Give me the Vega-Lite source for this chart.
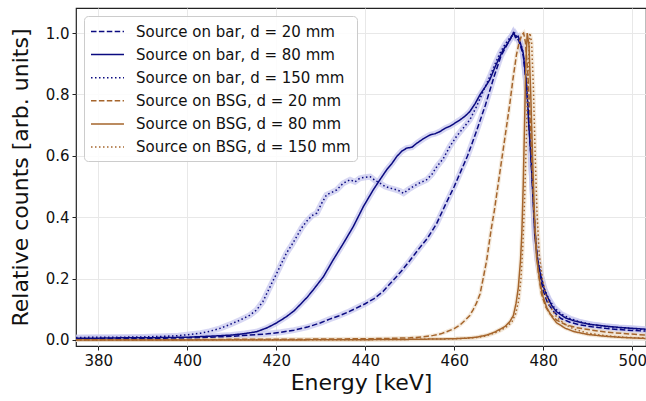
{
"$schema":"https://vega.github.io/schema/vega-lite/v6.json",
"width":570,"height":338,
"autosize":{"type":"none"},
"padding":{"left":76,"top":8,"right":0,"bottom":55},
"config":{"font":"DejaVu Sans","view":{"stroke":"#222222","strokeWidth":1.2},
 "axis":{"domain":false,"tickColor":"#222222","tickSize":4,"tickWidth":1,"labelFontSize":15,"labelColor":"#111111","labelPadding":3,"titleFontSize":22,"titleFontWeight":"normal","titleColor":"#111111","gridColor":"#e8e8e8","gridWidth":1},
 "legend":{"orient":"top-left","offset":8,"padding":6,"fillColor":"rgba(255,255,255,0.85)","strokeColor":"#cccccc","cornerRadius":4,"labelFontSize":15,"labelColor":"#111111","symbolType":"M-1,0H2.88","symbolSize":289,"symbolStrokeWidth":1.5,"symbolFillColor":"transparent","labelOffset":27,"labelLimit":400,"rowPadding":5.1}},
"data":{"values":[
{"s":"b20","E":375,"v":0.004},{"s":"b20","E":380,"v":0.004},{"s":"b20","E":385,"v":0.005},{"s":"b20","E":390,"v":0.005},{"s":"b20","E":395,"v":0.006},{"s":"b20","E":400,"v":0.007},{"s":"b20","E":405,"v":0.009},{"s":"b20","E":410,"v":0.012},{"s":"b20","E":414,"v":0.016},{"s":"b20","E":418,"v":0.02},{"s":"b20","E":421,"v":0.025},{"s":"b20","E":424,"v":0.032},{"s":"b20","E":427,"v":0.042},{"s":"b20","E":430,"v":0.056},{"s":"b20","E":432,"v":0.068},{"s":"b20","E":434,"v":0.078},{"s":"b20","E":436,"v":0.09},{"s":"b20","E":438,"v":0.104},{"s":"b20","E":440,"v":0.118},{"s":"b20","E":442,"v":0.135},{"s":"b20","E":444,"v":0.158},{"s":"b20","E":446,"v":0.19},{"s":"b20","E":448,"v":0.222},{"s":"b20","E":450,"v":0.258},{"s":"b20","E":452,"v":0.296},{"s":"b20","E":454,"v":0.332},{"s":"b20","E":456,"v":0.378},{"s":"b20","E":458,"v":0.44},{"s":"b20","E":460,"v":0.5},{"s":"b20","E":461.5,"v":0.55},{"s":"b20","E":463,"v":0.6},{"s":"b20","E":465,"v":0.68},{"s":"b20","E":467,"v":0.765},{"s":"b20","E":469,"v":0.86},{"s":"b20","E":470.5,"v":0.925},{"s":"b20","E":472,"v":0.965},{"s":"b20","E":473.3,"v":1.0},{"s":"b20","E":474.5,"v":0.975},{"s":"b20","E":475.5,"v":0.93},{"s":"b20","E":476.3,"v":0.82},{"s":"b20","E":476.8,"v":0.7},{"s":"b20","E":477.3,"v":0.58},{"s":"b20","E":477.8,"v":0.45},{"s":"b20","E":478.3,"v":0.33},{"s":"b20","E":479,"v":0.23},{"s":"b20","E":480,"v":0.16},{"s":"b20","E":481,"v":0.12},{"s":"b20","E":482.5,"v":0.09},{"s":"b20","E":484,"v":0.07},{"s":"b20","E":486,"v":0.058},{"s":"b20","E":488,"v":0.05},{"s":"b20","E":491,"v":0.043},{"s":"b20","E":494,"v":0.038},{"s":"b20","E":497,"v":0.034},{"s":"b20","E":500,"v":0.031},{"s":"b20","E":503,"v":0.029},
{"s":"b80","E":375,"v":0.006},{"s":"b80","E":380,"v":0.006},{"s":"b80","E":385,"v":0.007},{"s":"b80","E":390,"v":0.007},{"s":"b80","E":395,"v":0.008},{"s":"b80","E":400,"v":0.009},{"s":"b80","E":403,"v":0.011},{"s":"b80","E":406,"v":0.013},{"s":"b80","E":410,"v":0.016},{"s":"b80","E":413,"v":0.021},{"s":"b80","E":415.6,"v":0.027},{"s":"b80","E":418,"v":0.04},{"s":"b80","E":420,"v":0.055},{"s":"b80","E":422.3,"v":0.076},{"s":"b80","E":424,"v":0.095},{"s":"b80","E":425.3,"v":0.114},{"s":"b80","E":427,"v":0.14},{"s":"b80","E":428.3,"v":0.163},{"s":"b80","E":430.6,"v":0.206},{"s":"b80","E":432.8,"v":0.261},{"s":"b80","E":435.1,"v":0.315},{"s":"b80","E":437.3,"v":0.369},{"s":"b80","E":439.6,"v":0.435},{"s":"b80","E":441.8,"v":0.489},{"s":"b80","E":443.3,"v":0.522},{"s":"b80","E":444.8,"v":0.554},{"s":"b80","E":446,"v":0.575},{"s":"b80","E":447.1,"v":0.598},{"s":"b80","E":448.2,"v":0.615},{"s":"b80","E":449.3,"v":0.625},{"s":"b80","E":450.5,"v":0.628},{"s":"b80","E":451.6,"v":0.641},{"s":"b80","E":453,"v":0.655},{"s":"b80","E":454.6,"v":0.668},{"s":"b80","E":455.7,"v":0.672},{"s":"b80","E":456.8,"v":0.679},{"s":"b80","E":458,"v":0.69},{"s":"b80","E":459,"v":0.696},{"s":"b80","E":460,"v":0.705},{"s":"b80","E":461.3,"v":0.717},{"s":"b80","E":462.5,"v":0.73},{"s":"b80","E":463.5,"v":0.744},{"s":"b80","E":464.7,"v":0.77},{"s":"b80","E":465.8,"v":0.799},{"s":"b80","E":467,"v":0.825},{"s":"b80","E":468,"v":0.848},{"s":"b80","E":469.2,"v":0.89},{"s":"b80","E":470.3,"v":0.924},{"s":"b80","E":471,"v":0.945},{"s":"b80","E":471.8,"v":0.962},{"s":"b80","E":472.6,"v":0.98},{"s":"b80","E":473.3,"v":1.0},{"s":"b80","E":473.8,"v":0.985},{"s":"b80","E":474.4,"v":0.989},{"s":"b80","E":475,"v":0.96},{"s":"b80","E":475.5,"v":0.935},{"s":"b80","E":476.3,"v":0.826},{"s":"b80","E":476.7,"v":0.717},{"s":"b80","E":477.2,"v":0.609},{"s":"b80","E":477.5,"v":0.52},{"s":"b80","E":478.1,"v":0.34},{"s":"b80","E":478.7,"v":0.26},{"s":"b80","E":479.3,"v":0.22},{"s":"b80","E":480,"v":0.175},{"s":"b80","E":480.8,"v":0.145},{"s":"b80","E":482,"v":0.11},{"s":"b80","E":483,"v":0.092},{"s":"b80","E":485,"v":0.072},{"s":"b80","E":487,"v":0.062},{"s":"b80","E":490,"v":0.052},{"s":"b80","E":494,"v":0.045},{"s":"b80","E":497,"v":0.041},{"s":"b80","E":500,"v":0.038},{"s":"b80","E":503,"v":0.035},
{"s":"b150","E":375,"v":0.008},{"s":"b150","E":380,"v":0.009},{"s":"b150","E":385,"v":0.009},{"s":"b150","E":390,"v":0.01},{"s":"b150","E":395,"v":0.012},{"s":"b150","E":398,"v":0.014},{"s":"b150","E":400,"v":0.017},{"s":"b150","E":403,"v":0.022},{"s":"b150","E":405,"v":0.028},{"s":"b150","E":407.4,"v":0.038},{"s":"b150","E":409.5,"v":0.05},{"s":"b150","E":411.9,"v":0.065},{"s":"b150","E":414,"v":0.08},{"s":"b150","E":415.6,"v":0.098},{"s":"b150","E":417,"v":0.125},{"s":"b150","E":417.9,"v":0.152},{"s":"b150","E":419,"v":0.185},{"s":"b150","E":420.1,"v":0.217},{"s":"b150","E":421.2,"v":0.25},{"s":"b150","E":422.3,"v":0.283},{"s":"b150","E":423.5,"v":0.31},{"s":"b150","E":424.6,"v":0.337},{"s":"b150","E":425.7,"v":0.365},{"s":"b150","E":426.8,"v":0.386},{"s":"b150","E":428,"v":0.405},{"s":"b150","E":429.1,"v":0.413},{"s":"b150","E":430.2,"v":0.445},{"s":"b150","E":431.3,"v":0.473},{"s":"b150","E":432.4,"v":0.48},{"s":"b150","E":433.6,"v":0.489},{"s":"b150","E":435,"v":0.51},{"s":"b150","E":436.6,"v":0.522},{"s":"b150","E":437.7,"v":0.515},{"s":"b150","E":438.8,"v":0.527},{"s":"b150","E":440,"v":0.53},{"s":"b150","E":441.1,"v":0.532},{"s":"b150","E":442.2,"v":0.52},{"s":"b150","E":443.3,"v":0.511},{"s":"b150","E":444.5,"v":0.5},{"s":"b150","E":445.6,"v":0.495},{"s":"b150","E":446.8,"v":0.49},{"s":"b150","E":447.8,"v":0.485},{"s":"b150","E":448.6,"v":0.478},{"s":"b150","E":449.7,"v":0.49},{"s":"b150","E":450.8,"v":0.5},{"s":"b150","E":452,"v":0.51},{"s":"b150","E":453.8,"v":0.522},{"s":"b150","E":455,"v":0.54},{"s":"b150","E":456.1,"v":0.565},{"s":"b150","E":457.5,"v":0.59},{"s":"b150","E":459,"v":0.63},{"s":"b150","E":460.5,"v":0.663},{"s":"b150","E":462,"v":0.69},{"s":"b150","E":463.5,"v":0.717},{"s":"b150","E":465,"v":0.76},{"s":"b150","E":466.5,"v":0.81},{"s":"b150","E":468,"v":0.858},{"s":"b150","E":469.2,"v":0.9},{"s":"b150","E":470.3,"v":0.935},{"s":"b150","E":471.5,"v":0.965},{"s":"b150","E":472.5,"v":0.984},{"s":"b150","E":473.6,"v":1.0},{"s":"b150","E":474.5,"v":0.98},{"s":"b150","E":475.3,"v":0.95},{"s":"b150","E":476,"v":0.88},{"s":"b150","E":476.6,"v":0.76},{"s":"b150","E":477.1,"v":0.64},{"s":"b150","E":477.6,"v":0.5},{"s":"b150","E":478.2,"v":0.34},{"s":"b150","E":478.8,"v":0.26},{"s":"b150","E":479.5,"v":0.21},{"s":"b150","E":480.3,"v":0.165},{"s":"b150","E":481.2,"v":0.135},{"s":"b150","E":482.5,"v":0.105},{"s":"b150","E":484,"v":0.085},{"s":"b150","E":486,"v":0.07},{"s":"b150","E":488,"v":0.06},{"s":"b150","E":491,"v":0.05},{"s":"b150","E":494,"v":0.044},{"s":"b150","E":497,"v":0.04},{"s":"b150","E":500,"v":0.037},{"s":"b150","E":503,"v":0.034},
{"s":"g20","E":375,"v":0.001},{"s":"g20","E":390,"v":0.001},{"s":"g20","E":400,"v":0.001},{"s":"g20","E":410,"v":0.002},{"s":"g20","E":420,"v":0.002},{"s":"g20","E":430,"v":0.003},{"s":"g20","E":440,"v":0.004},{"s":"g20","E":445,"v":0.005},{"s":"g20","E":450,"v":0.007},{"s":"g20","E":453,"v":0.01},{"s":"g20","E":455.3,"v":0.015},{"s":"g20","E":457,"v":0.02},{"s":"g20","E":458.3,"v":0.027},{"s":"g20","E":460,"v":0.037},{"s":"g20","E":461.3,"v":0.049},{"s":"g20","E":462.5,"v":0.065},{"s":"g20","E":463.5,"v":0.08},{"s":"g20","E":464.3,"v":0.1},{"s":"g20","E":465,"v":0.12},{"s":"g20","E":465.8,"v":0.15},{"s":"g20","E":466.5,"v":0.2},{"s":"g20","E":467.3,"v":0.26},{"s":"g20","E":467.7,"v":0.3},{"s":"g20","E":468.3,"v":0.36},{"s":"g20","E":469,"v":0.42},{"s":"g20","E":469.8,"v":0.5},{"s":"g20","E":470.5,"v":0.57},{"s":"g20","E":471.1,"v":0.63},{"s":"g20","E":471.8,"v":0.7},{"s":"g20","E":472.5,"v":0.77},{"s":"g20","E":473.2,"v":0.85},{"s":"g20","E":474,"v":0.93},{"s":"g20","E":474.6,"v":0.97},{"s":"g20","E":475.2,"v":0.994},{"s":"g20","E":475.6,"v":1.0},{"s":"g20","E":476,"v":0.97},{"s":"g20","E":476.5,"v":0.88},{"s":"g20","E":477,"v":0.74},{"s":"g20","E":477.4,"v":0.6},{"s":"g20","E":477.8,"v":0.45},{"s":"g20","E":478.3,"v":0.32},{"s":"g20","E":478.9,"v":0.22},{"s":"g20","E":479.6,"v":0.15},{"s":"g20","E":480.5,"v":0.11},{"s":"g20","E":481.5,"v":0.085},{"s":"g20","E":483,"v":0.065},{"s":"g20","E":485,"v":0.05},{"s":"g20","E":487.5,"v":0.04},{"s":"g20","E":490.5,"v":0.033},{"s":"g20","E":494,"v":0.026},{"s":"g20","E":498,"v":0.021},{"s":"g20","E":503,"v":0.016},
{"s":"g80","E":375,"v":0.0},{"s":"g80","E":400,"v":0.0},{"s":"g80","E":420,"v":0.0},{"s":"g80","E":440,"v":0.001},{"s":"g80","E":450,"v":0.002},{"s":"g80","E":455,"v":0.003},{"s":"g80","E":460,"v":0.004},{"s":"g80","E":462.8,"v":0.006},{"s":"g80","E":465,"v":0.009},{"s":"g80","E":467.3,"v":0.016},{"s":"g80","E":469,"v":0.025},{"s":"g80","E":470.3,"v":0.035},{"s":"g80","E":471.5,"v":0.045},{"s":"g80","E":472.5,"v":0.06},{"s":"g80","E":473.3,"v":0.08},{"s":"g80","E":473.9,"v":0.12},{"s":"g80","E":474.4,"v":0.17},{"s":"g80","E":474.9,"v":0.26},{"s":"g80","E":475.2,"v":0.35},{"s":"g80","E":475.5,"v":0.5},{"s":"g80","E":475.8,"v":0.7},{"s":"g80","E":476.1,"v":0.9},{"s":"g80","E":476.4,"v":1.0},{"s":"g80","E":476.8,"v":0.96},{"s":"g80","E":477.2,"v":0.8},{"s":"g80","E":477.6,"v":0.6},{"s":"g80","E":478,"v":0.42},{"s":"g80","E":478.5,"v":0.27},{"s":"g80","E":479.3,"v":0.185},{"s":"g80","E":480,"v":0.14},{"s":"g80","E":480.8,"v":0.105},{"s":"g80","E":482,"v":0.075},{"s":"g80","E":483,"v":0.056},{"s":"g80","E":485,"v":0.038},{"s":"g80","E":487,"v":0.027},{"s":"g80","E":490,"v":0.018},{"s":"g80","E":494,"v":0.012},{"s":"g80","E":498,"v":0.008},{"s":"g80","E":503,"v":0.005},
{"s":"g150","E":375,"v":0.0},{"s":"g150","E":400,"v":0.0},{"s":"g150","E":420,"v":0.001},{"s":"g150","E":440,"v":0.001},{"s":"g150","E":450,"v":0.002},{"s":"g150","E":455,"v":0.003},{"s":"g150","E":460,"v":0.004},{"s":"g150","E":463,"v":0.006},{"s":"g150","E":465,"v":0.008},{"s":"g150","E":467.3,"v":0.014},{"s":"g150","E":469,"v":0.022},{"s":"g150","E":470.5,"v":0.032},{"s":"g150","E":472,"v":0.045},{"s":"g150","E":473,"v":0.06},{"s":"g150","E":473.8,"v":0.085},{"s":"g150","E":474.5,"v":0.13},{"s":"g150","E":475,"v":0.2},{"s":"g150","E":475.4,"v":0.3},{"s":"g150","E":475.8,"v":0.45},{"s":"g150","E":476.2,"v":0.65},{"s":"g150","E":476.6,"v":0.88},{"s":"g150","E":477,"v":1.0},{"s":"g150","E":477.4,"v":0.97},{"s":"g150","E":477.8,"v":0.82},{"s":"g150","E":478.2,"v":0.6},{"s":"g150","E":478.6,"v":0.42},{"s":"g150","E":479.1,"v":0.28},{"s":"g150","E":479.8,"v":0.2},{"s":"g150","E":480.6,"v":0.145},{"s":"g150","E":481.5,"v":0.11},{"s":"g150","E":483,"v":0.075},{"s":"g150","E":485,"v":0.05},{"s":"g150","E":487,"v":0.035},{"s":"g150","E":490,"v":0.022},{"s":"g150","E":494,"v":0.014},{"s":"g150","E":498,"v":0.009},{"s":"g150","E":503,"v":0.006}
]},
"encoding":{
 "x":{"field":"E","type":"quantitative","scale":{"domain":[375,503.1],"nice":false,"zero":false},"axis":{"values":[380,400,420,440,460,480,500],"title":"Energy [keV]","titlePadding":4}},
 "y":{"field":"v","type":"quantitative","scale":{"domain":[-0.0196,1.0815],"nice":false,"zero":false},"axis":{"values":[0,0.2,0.4,0.6,0.8,1.0],"format":".1f","title":"Relative counts [arb. units]","titlePadding":13}}
},
"layer":[
 {"transform":[{"filter":"datum.s[0]=='b'"}],"mark":{"type":"line","strokeWidth":6,"color":"#c6c6ee","opacity":0.7,"clip":true},"encoding":{"detail":{"field":"s"}}},
 {"transform":[{"filter":"datum.s[0]=='g'"}],"mark":{"type":"line","strokeWidth":4,"color":"#ecdcc6","opacity":0.6,"clip":true},"encoding":{"detail":{"field":"s"}}},
 {"mark":{"type":"line","strokeWidth":1.5,"clip":true},
  "encoding":{
   "color":{"field":"s","type":"nominal","scale":{"domain":["b20","b80","b150","g20","g80","g150"],"range":["#0a0a80","#0a0a80","#0a0a80","#a5652c","#a5652c","#a5652c"]},"legend":{"title":null,"labelExpr":"{'b20':'Source on bar, d = 20 mm','b80':'Source on bar, d = 80 mm','b150':'Source on bar, d = 150 mm','g20':'Source on BSG, d = 20 mm','g80':'Source on BSG, d = 80 mm','g150':'Source on BSG, d = 150 mm'}[datum.label]"}},
   "strokeDash":{"field":"s","type":"nominal","scale":{"domain":["b20","b80","b150","g20","g80","g150"],"range":[[5.5,2.4],[1,0],[1.5,2.5],[5.5,2.4],[1,0],[1.5,2.5]]},"legend":{"title":null,"labelExpr":"{'b20':'Source on bar, d = 20 mm','b80':'Source on bar, d = 80 mm','b150':'Source on bar, d = 150 mm','g20':'Source on BSG, d = 20 mm','g80':'Source on BSG, d = 80 mm','g150':'Source on BSG, d = 150 mm'}[datum.label]"}}
  }}
]
}
